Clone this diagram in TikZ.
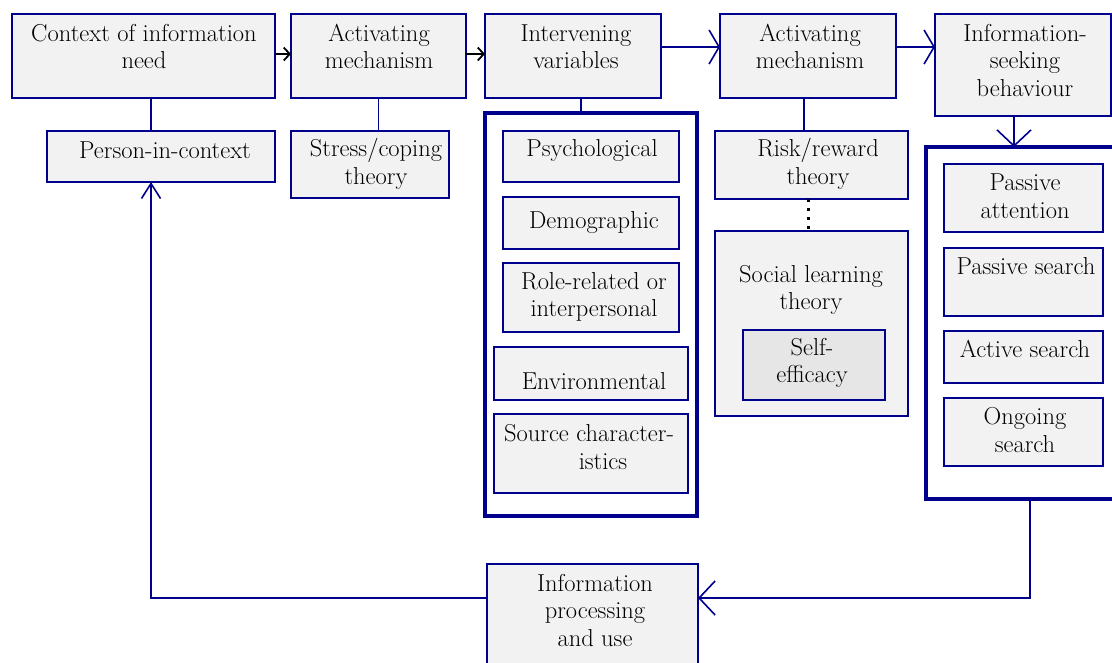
\documentclass[tikz,border=0pt]{standalone}
\usepackage{fontspec}
\usetikzlibrary{arrows.meta,fit}
\definecolor{navy}{RGB}{0,0,140}
\definecolor{boxfill}{RGB}{242,242,242}
\definecolor{selffill}{RGB}{230,230,230}
\begin{document}
\begin{tikzpicture}[x=1pt,y=-1pt,
  box/.style={draw=navy,fill=boxfill,line width=1.3pt,inner sep=0pt,outer sep=0pt},
  bigbox/.style={draw=navy,line width=4pt,inner sep=0pt,outer sep=0pt},
  selfbox/.style={draw=navy,fill=selffill,line width=2pt,inner sep=0pt,outer sep=0pt},
  txt/.style={inner sep=0pt,align=center,font=\fontsize{24.5}{27.5}\selectfont},
  conn/.style={draw=navy,line width=1.5pt},
  blkarrow/.style={draw=black,line width=1.8pt,-{Straight Barb[length=6pt,width=13pt]}},
  chev/.style={draw=navy,line width=1.6pt,-{Straight Barb[length=10pt,width=34pt]}},
  chevlong/.style={draw=navy,line width=1.6pt,-{Straight Barb[length=16pt,width=34pt]}},
  chevup/.style={draw=navy,line width=1.6pt,-{Straight Barb[length=15pt,width=19pt]}},
  dots/.style={draw=black,line width=3pt,dash pattern=on 3pt off 6pt}]
\useasboundingbox (0,0) rectangle (1112,662);
\clip (0,0) rectangle (1112,662);
% top row
\node[box,fit={(12,14)(275,98)}] (ctx) {};
\node[box,fit={(291,14)(466,98)}] (act1) {};
\node[box,fit={(485,14)(661,98)}] (int) {};
\node[box,fit={(720,14)(896,98)}] (act2) {};
\node[box,fit={(935,14)(1111,116)}] (info) {};
% second row
\node[box,fit={(47,131)(275,182)}] (pic) {};
\node[box,fit={(291,131)(449,198)}] (stress) {};
\node[bigbox,fit={(485,113)(697,516)}] (ibox) {};
\node[box,fit={(503,131)(679,182)}] (psy) {};
\node[box,fit={(503,197)(679,249)}] (demo) {};
\node[box,fit={(503,263)(679,332)}] (role) {};
\node[box,fit={(494,347)(688,400)}] (env) {};
\node[box,fit={(494,414)(688,493)}] (src) {};
\node[box,fit={(715,131)(908,199)}] (risk) {};
\node[box,fit={(715,231)(908,416)}] (social) {};
\node[selfbox,fit={(743,330)(885,400)}] (self) {};
\node[bigbox,fit={(926,147)(1150,499)}] (rbox) {};
\node[box,fit={(944,164)(1103,232)}] (pa) {};
\node[box,fit={(944,248)(1103,316)}] (ps) {};
\node[box,fit={(944,331)(1103,383)}] (as) {};
\node[box,fit={(944,398)(1103,466)}] (os) {};
\node[box,fit={(487,564)(698,690)}] (ipu) {};
% texts
\node[txt] (t-ctx) at (144,46.5) {Context of information\\need};
\node[txt] (t-act1) at (379,46.5) {Activating\\mechanism};
\node[txt] (t-int) at (576,46.5) {Intervening\\variables};
\node[txt] (t-act2) at (810,46.5) {Activating\\mechanism};
\node[txt] (t-info) at (1025,60) {Information-\\seeking\\behaviour};
\node[txt] (t-pic) at (165,150) {Person-in-context};
\node[txt] (t-stress) at (376,164) {Stress/coping\\theory};
\node[txt] (t-psy) at (592,150) {Psychological};
\node[txt] (t-demo) at (594,222) {Demographic};
\node[txt] (t-role) at (594,297) {Role-related or\\interpersonal};
\node[txt] (t-env) at (594,381) {Environmental};
\node[txt] (t-src) at (589,447) {Source character-\\\hspace*{28pt}istics};
\node[txt] (t-risk) at (818,164) {Risk/reward\\theory};
\node[txt] (t-social) at (811,290) {Social learning\\theory};
\node[txt] (t-self) at (812,363) {Self-\\efficacy};
\node[txt] (t-pa) at (1025,196) {Passive\\attention};
\node[txt] (t-ps) at (1026,266) {Passive search};
\node[txt] (t-as) at (1025,349) {Active search};
\node[txt] (t-os) at (1025,430) {Ongoing\\search};
\node[txt] (t-ipu) at (595,610) {Information\\processing\\and use};
% connectors
\draw[blkarrow] ([yshift=2pt]ctx.east) -- ([yshift=2pt]act1.west);
\draw[blkarrow] ([yshift=2pt]act1.east) -- ([yshift=2pt]int.west);
\draw[chev] ([yshift=9pt]int.east) -- ([yshift=9pt]act2.west);
\draw[chev] ([yshift=9pt]act2.east) -- ([yshift=9pt]act2.east -| info.west);
\draw[chevlong] ([xshift=-9pt]info.south) -- ([xshift=-9pt]info.south |- rbox.north);
\draw[conn] ([xshift=-10pt]pic.north) -- ([xshift=-10pt]pic.north |- ctx.south);
\draw[conn] (act1.south) -- (act1.south |- stress.north);
\draw[conn] ([xshift=8pt]int.south) -- ([xshift=8pt]int.south |- ibox.north);
\draw[conn] ([xshift=-4pt]act2.south) -- ([xshift=-4pt]act2.south |- risk.north);
\draw[dots] ([xshift=-3pt]risk.south) -- ([xshift=-3pt]social.north);
\coordinate (c1) at (1030,598);
\coordinate (c2) at (151,598);
\draw[conn] (c1 |- rbox.south) -- (c1) -- (c1 -| ipu.east);
\draw[chevlong] ([xshift=30pt]c1 -| ipu.east) -- (c1 -| ipu.east);
\draw[conn] (c2 -| ipu.west) -- (c2) -- (c2 |- pic.south);
\draw[chevup] ([yshift=-20pt]c2 |- pic.south) -- (c2 |- pic.south);
\end{tikzpicture}
\end{document}
